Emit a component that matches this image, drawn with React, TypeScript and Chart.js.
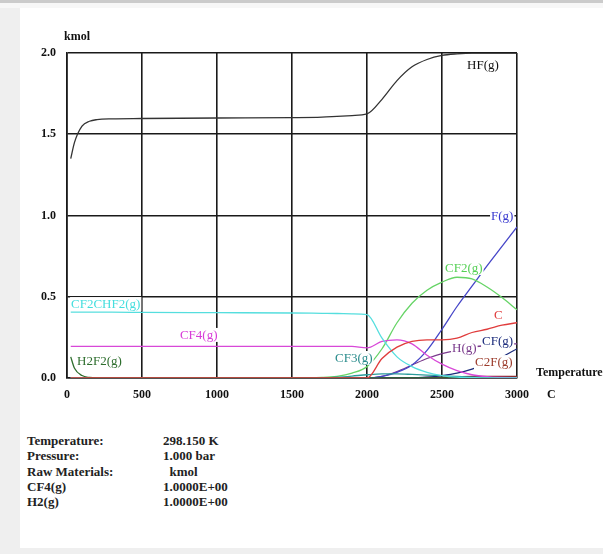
import React, { useEffect, useRef } from "react";
import { Chart, registerables } from "chart.js";

Chart.register(...registerables);

const TEMPS = [25, 50, 100, 150, 200, 300, 500, 1000, 1500, 1700, 1800, 1900, 2000, 2100, 2200, 2300, 2400, 2500, 2600, 2700, 2800, 2900, 3000];

const HF = [1.35, 1.45, 1.55, 1.58, 1.59, 1.595, 1.597, 1.6, 1.602, 1.605, 1.61, 1.615, 1.625, 1.715, 1.83, 1.915, 1.96, 1.985, 1.995, 2.0, 2.0, 2.0, 2.0];
const CF2CHF2 = [0.405, 0.405, 0.405, 0.405, 0.405, 0.405, 0.404, 0.402, 0.4, 0.398, 0.397, 0.395, 0.39, 0.245, 0.13, 0.07, 0.035, 0.015, 0.005, 0.002, 0, 0, 0];
const CF4 = [0.195, 0.195, 0.195, 0.195, 0.195, 0.195, 0.195, 0.195, 0.195, 0.195, 0.195, 0.194, 0.185, 0.225, 0.235, 0.21, 0.14, 0.085, 0.045, 0.02, 0.008, 0.003, 0.001];
const H2F2 = [0.13, 0.06, 0.015, 0.003, 0, 0, 0, 0, 0, 0, 0, 0, 0, 0, 0, 0, 0, 0, 0, 0, 0, 0, 0];
const CF3 = [0, 0, 0, 0, 0, 0, 0, 0, 0, 0, 0.005, 0.012, 0.02, 0.025, 0.025, 0.022, 0.018, 0.014, 0.01, 0.006, 0.003, 0.001, 0];
const CF2 = [0, 0, 0, 0, 0, 0, 0, 0, 0, 0.003, 0.01, 0.03, 0.07, 0.18, 0.34, 0.46, 0.54, 0.59, 0.62, 0.61, 0.56, 0.495, 0.42];
const F = [0, 0, 0, 0, 0, 0, 0, 0, 0, 0, 0, 0, 0, 0.01, 0.035, 0.08, 0.17, 0.3, 0.44, 0.565, 0.69, 0.81, 0.93];
const C = [0, 0, 0, 0, 0, 0, 0, 0, 0, 0, 0, 0, 0, 0.12, 0.19, 0.225, 0.235, 0.235, 0.245, 0.28, 0.3, 0.325, 0.34];
const H = [0, 0, 0, 0, 0, 0, 0, 0, 0, 0, 0, 0, 0, 0.01, 0.04, 0.08, 0.12, 0.15, 0.17, 0.19, 0.2, 0.21, 0.21];
const CF = [0, 0, 0, 0, 0, 0, 0, 0, 0, 0, 0, 0, 0, 0, 0, 0, 0.005, 0.015, 0.03, 0.055, 0.09, 0.13, 0.18];
const C2F = [0, 0, 0, 0, 0, 0, 0, 0, 0, 0, 0, 0, 0, 0, 0, 0, 0.003, 0.006, 0.008, 0.01, 0.01, 0.01, 0.01];

const X_TICKS = [0, 500, 1000, 1500, 2000, 2500, 3000];
const Y_TICKS = [0, 0.5, 1.0, 1.5, 2.0];

const LABEL_TEXT = ["HF(g)", "F(g)", "CF2(g)", "C", "H(g)", "CF(g)", "C2F(g)", "CF3(g)", "CF2CHF2(g)", "CF4(g)", "H2F2(g)"];
const LABEL_T = [2667, 2827, 2520, 2847, 2567, 2767, 2720, 1787, 27, 753, 67];
const LABEL_V = [1.93, 1.0, 0.677, 0.388, 0.19, 0.228, 0.098, 0.123, 0.455, 0.265, 0.105];
const LABEL_COLOR = ["#111111", "#3a3ad0", "#55d055", "#e03c3c", "#7a3a8c", "#1c2c7c", "#9c3c2c", "#2a8c8c", "#44dede", "#d83cd8", "#2e6e2e"];

const INFO_KEYS = ["Temperature:", "Pressure:", "Raw Materials:", "CF4(g)", "H2(g)"];
const INFO_VALUES = ["298.150 K", "1.000 bar", "  kmol", "1.0000E+00", "1.0000E+00"];

const SERIES = [
  { label: "C", data: C, color: "#e03c3c" },
  { label: "HF(g)", data: HF, color: "#333333" },
  { label: "CF2CHF2(g)", data: CF2CHF2, color: "#55dede" },
  { label: "CF4(g)", data: CF4, color: "#d848d8" },
  { label: "H2F2(g)", data: H2F2, color: "#2e6e2e" },
  { label: "CF3(g)", data: CF3, color: "#2a9c9c" },
  { label: "CF2(g)", data: CF2, color: "#66d466" },
  { label: "F(g)", data: F, color: "#4646c8" },
  { label: "H(g)", data: H, color: "#7a3a8c" },
  { label: "CF(g)", data: CF, color: "#1c2c7c" },
  { label: "C2F(g)", data: C2F, color: "#8c2c2c" },
];

const SERIF = "'Liberation Serif', 'DejaVu Serif', serif";

const labelPlugin = {
  id: "curveLabels",
  afterDatasetsDraw(chart: any) {
    const { ctx, scales } = chart;
    const xs = scales.x;
    const ys = scales.y;
    ctx.save();
    ctx.font = `13px ${SERIF}`;
    ctx.textBaseline = "middle";
    ctx.textAlign = "left";
    for (let i = 0; i < LABEL_TEXT.length; i++) {
      const px = xs.getPixelForValue(LABEL_T[i]);
      const py = ys.getPixelForValue(LABEL_V[i]);
      const w = ctx.measureText(LABEL_TEXT[i]).width;
      ctx.fillStyle = "#ffffff";
      ctx.fillRect(px - 1, py - 7, w + 2, 14);
      ctx.fillStyle = LABEL_COLOR[i];
      ctx.fillText(LABEL_TEXT[i], px, py + 1);
    }
    ctx.fillStyle = "#111111";
    ctx.font = `bold 12px ${SERIF}`;
    ctx.fillText("kmol", xs.left - 3, ys.top - 16);
    ctx.fillText("Temperature", xs.right + 19, ys.bottom - 5);
    ctx.fillText("C", xs.right + 30, ys.bottom + 17);
    ctx.restore();
  },
};

function ChartView() {
  const ref = useRef<HTMLCanvasElement | null>(null);
  useEffect(() => {
    if (!ref.current) return;
    const chart = new Chart(ref.current, {
      type: "line",
      data: {
        labels: TEMPS,
        datasets: SERIES.map((s) => ({
          label: s.label,
          data: s.data.map((v, i) => ({ x: TEMPS[i], y: v })),
          borderColor: s.color,
          backgroundColor: s.color,
          borderWidth: 1.3,
          pointRadius: 0,
          fill: false,
          cubicInterpolationMode: "monotone" as const,
        })),
      },
      options: {
        animation: false,
        responsive: false,
        maintainAspectRatio: false,
        events: [],
        layout: { padding: { left: 0, right: 86, top: 53, bottom: 0 } },
        plugins: { legend: { display: false }, tooltip: { enabled: false }, title: { display: false } },
        scales: {
          x: {
            type: "linear",
            min: 0,
            max: 3000,
            afterFit: (s: any) => { s.height = 42; },
            afterBuildTicks: (s: any) => { s.ticks = X_TICKS.map((v) => ({ value: v })); },
            grid: { color: "#1a1a1a", lineWidth: 1.6, drawTicks: false },
            border: { color: "#1a1a1a", width: 1.6 },
            ticks: {
              padding: 10,
              color: "#111111",
              font: { family: SERIF, size: 12, weight: "bold" },
              maxRotation: 0,
              callback: (v: any) => String(v),
            },
          },
          y: {
            type: "linear",
            min: 0,
            max: 2,
            afterFit: (s: any) => { s.width = 67; },
            afterBuildTicks: (s: any) => { s.ticks = Y_TICKS.map((v) => ({ value: v })); },
            grid: { color: "#1a1a1a", lineWidth: 1.6, drawTicks: false },
            border: { color: "#1a1a1a", width: 1.6 },
            ticks: {
              padding: 11,
              color: "#111111",
              font: { family: SERIF, size: 12, weight: "bold" },
              callback: (v: any) => Number(v).toFixed(1),
            },
          },
        },
      },
      plugins: [labelPlugin],
    });
    return () => chart.destroy();
  }, []);
  return (
    <canvas
      ref={ref}
      width={603}
      height={420}
      style={{ position: "absolute", left: 0, top: 0, width: 603, height: 420 }}
    />
  );
}

const infoStyle = {
  position: "absolute" as const,
  fontFamily: SERIF,
  fontWeight: "bold" as const,
  fontSize: 13,
  lineHeight: "15px",
  color: "#222222",
  whiteSpace: "pre" as const,
};

export default function App() {
  return (
    <div style={{ position: "fixed", left: 0, top: 0, width: 603, height: 554, background: "#efefef", overflow: "hidden" }}>
      <div style={{ position: "absolute", left: 0, top: 0, width: 603, height: 3, background: "#cbcbcb" }} />
      <div style={{ position: "absolute", left: 0, top: 3, width: 603, height: 5, background: "#f7f7f7" }} />
      <div style={{ position: "absolute", left: 20, top: 8, width: 583, height: 540, background: "#ffffff" }} />
      <ChartView />
      {INFO_KEYS.map((k, i) => (
        <React.Fragment key={k}>
          <div style={{ ...infoStyle, left: 27, top: 433 + i * 15.3 }}>{k}</div>
          <div style={{ ...infoStyle, left: 163, top: 433 + i * 15.3 }}>{INFO_VALUES[i]}</div>
        </React.Fragment>
      ))}
    </div>
  );
}
